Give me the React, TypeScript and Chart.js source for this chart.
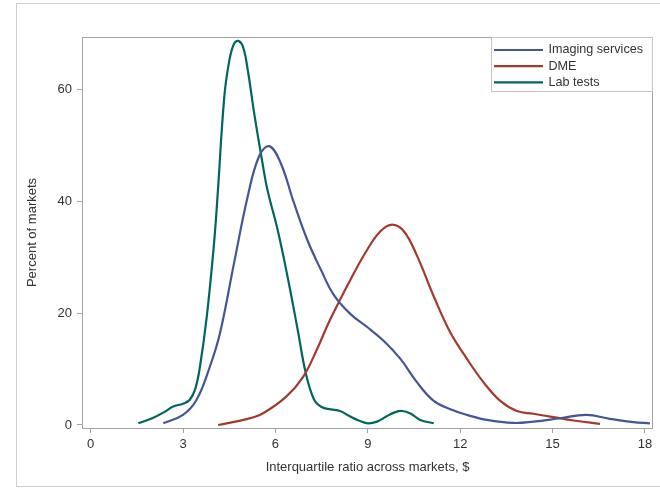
import React, { useEffect, useRef } from 'react';
import { Chart, registerables } from 'chart.js';

Chart.register(...registerables);

// ---- data ----
const seriesNames = ['Imaging services', 'DME', 'Lab tests'];
const seriesColors = ['#445694', '#A23A2E', '#01665E'];

const imagingX = [2.36, 3.0, 3.44, 3.87, 4.2, 4.66, 5.1, 5.47, 5.8, 6.17, 6.6, 7.04, 7.47, 7.9, 8.44, 8.98, 9.52, 10.06, 10.6, 11.14, 11.68, 12.22, 12.87, 13.73, 14.38, 15.24, 16.1, 16.86, 17.62, 18.16];
const imagingY = [0.3, 1.8, 4.5, 10.4, 16.4, 29, 40.8, 48, 49.8, 46.8, 39.7, 33.0, 27.8, 23.2, 19.8, 17.5, 15.0, 11.8, 7.6, 4.3, 2.8, 1.8, 0.9, 0.36, 0.6, 1.2, 1.8, 1.1, 0.5, 0.3];

const dmeX = [4.14, 5.1, 5.6, 6.36, 6.9, 7.34, 7.77, 8.44, 8.98, 9.41, 9.79, 10.17, 10.6, 11.14, 11.68, 12.22, 12.76, 13.3, 13.84, 14.38, 15.03, 15.68, 16.54];
const dmeY = [0, 1.1, 2.1, 5.1, 8.6, 13.4, 18.75, 26, 31.3, 34.6, 35.8, 34.6, 30.2, 23, 16.5, 11.8, 7.6, 4.3, 2.5, 2.0, 1.4, 0.8, 0.2];

const labX = [1.55, 2.0, 2.39, 2.68, 3.0, 3.22, 3.4, 3.55, 3.77, 4.0, 4.12, 4.34, 4.5, 4.65, 4.79, 4.95, 5.1, 5.31, 5.58, 5.74, 6.07, 6.39, 6.72, 6.98, 7.25, 7.5, 7.8, 8.1, 8.4, 8.7, 9.0, 9.3, 9.6, 9.85, 10.12, 10.4, 10.7, 11.14];
const labY = [0.3, 1.2, 2.3, 3.3, 3.8, 4.5, 6.5, 10.4, 19.3, 32, 40.8, 58.6, 65, 68, 68.6, 67.5, 63.5, 55.7, 46.8, 42, 34.9, 26.6, 17.1, 9.4, 4.6, 3.2, 2.8, 2.5, 1.6, 0.8, 0.3, 0.6, 1.5, 2.2, 2.5, 2.0, 0.9, 0.3];

const xTicks = [0, 3, 6, 9, 12, 15, 18];
const yTicks = [0, 20, 40, 60];
const xAxisTitle = 'Interquartile ratio across markets, $';
const yAxisTitle = 'Percent of markets';

const W = 660;
const H = 489;
const FONT = "'Liberation Sans', Arial, sans-serif";
const FS = 13;
const TEXT = '#333333';
const AXIS = '#a3a3a3';

function pts(xs: number[], ys: number[]) {
  return xs.map((x, i) => ({ x, y: ys[i] }));
}

const framePlugin = {
  id: 'frames',
  beforeDraw(chart: any) {
    const ctx = chart.ctx;
    ctx.save();
    ctx.fillStyle = '#ffffff';
    ctx.fillRect(0, 0, W, H);
    ctx.strokeStyle = '#cfcfcf';
    ctx.lineWidth = 1;
    ctx.strokeRect(16.5, 3.5, 700, 483);
    ctx.restore();
  },
  afterDraw(chart: any) {
    const ctx = chart.ctx;
    const { left, top, right, bottom } = chart.chartArea;
    ctx.save();
    ctx.strokeStyle = AXIS;
    ctx.lineWidth = 1;
    ctx.strokeRect(left + 0.5, top + 0.5, right - left - 1, bottom - top);
    // legend
    const lx = 491.5, ly = top + 0.5, lw = right - 0.5 - 491.5, lh = 54;
    ctx.fillStyle = '#ffffff';
    ctx.fillRect(lx, ly, lw, lh);
    ctx.strokeStyle = '#c4c4c4';
    ctx.strokeRect(lx, ly, lw, lh);
    ctx.font = `12.6px ${FONT}`;
    ctx.textBaseline = 'middle';
    ctx.textAlign = 'left';
    chart.data.datasets.forEach((ds: any, i: number) => {
      const y = top + 13 + i * 16.2;
      ctx.strokeStyle = ds.borderColor;
      ctx.lineWidth = 2.2;
      ctx.beginPath();
      ctx.moveTo(494, y);
      ctx.lineTo(543, y);
      ctx.stroke();
      ctx.fillStyle = TEXT;
      ctx.fillText(ds.label, 548.5, y);
    });
    ctx.restore();
  },
};

export default function App() {
  const ref = useRef<HTMLCanvasElement | null>(null);
  useEffect(() => {
    if (!ref.current) return;
    const seriesX = [imagingX, dmeX, labX];
    const seriesY = [imagingY, dmeY, labY];
    const chart = new Chart(ref.current, {
      type: 'line',
      data: {
        datasets: seriesNames.map((name, i) => ({
          label: name,
          data: pts(seriesX[i], seriesY[i]),
          borderColor: seriesColors[i],
          backgroundColor: seriesColors[i],
          borderWidth: 2.2,
          pointRadius: 0,
          fill: false,
          tension: 0.4,
        })),
      },
      options: {
        responsive: false,
        animation: false,
        devicePixelRatio: 1,
        layout: { padding: { left: 0, top: 37, right: 7, bottom: 0 } },
        plugins: { legend: { display: false }, tooltip: { enabled: false } },
        scales: {
          x: {
            type: 'linear',
            min: -0.28,
            max: 18.26,
            afterBuildTicks: (scale: any) => {
              scale.ticks = xTicks.map((v) => ({ value: v }));
            },
            afterFit: (scale: any) => {
              scale.height = 61;
            },
            ticks: { color: TEXT, font: { size: FS, family: FONT }, padding: 4, maxRotation: 0, autoSkip: false },
            grid: { display: true, drawOnChartArea: false, drawTicks: true, tickLength: 5, color: AXIS },
            border: { display: false },
            title: { display: true, text: xAxisTitle, color: TEXT, font: { size: FS, family: FONT }, padding: { top: 0, bottom: 14 } },
          },
          y: {
            type: 'linear',
            min: -0.54,
            max: 69.3,
            afterBuildTicks: (scale: any) => {
              scale.ticks = yTicks.map((v) => ({ value: v }));
            },
            afterFit: (scale: any) => {
              scale.width = 82;
            },
            ticks: { color: TEXT, font: { size: FS, family: FONT }, padding: 5, autoSkip: false },
            grid: { display: true, drawOnChartArea: false, drawTicks: true, tickLength: 5, color: AXIS },
            border: { display: false },
            title: { display: true, text: yAxisTitle, color: TEXT, font: { size: FS, family: FONT }, padding: { top: 25, bottom: 0 } },
          },
        },
      },
      plugins: [framePlugin],
    });
    return () => chart.destroy();
  }, []);
  return (
    <div style={{ position: 'absolute', left: 0, top: 0, width: W, height: H }}>
      <canvas ref={ref} width={W} height={H} style={{ display: 'block' }} />
    </div>
  );
}
